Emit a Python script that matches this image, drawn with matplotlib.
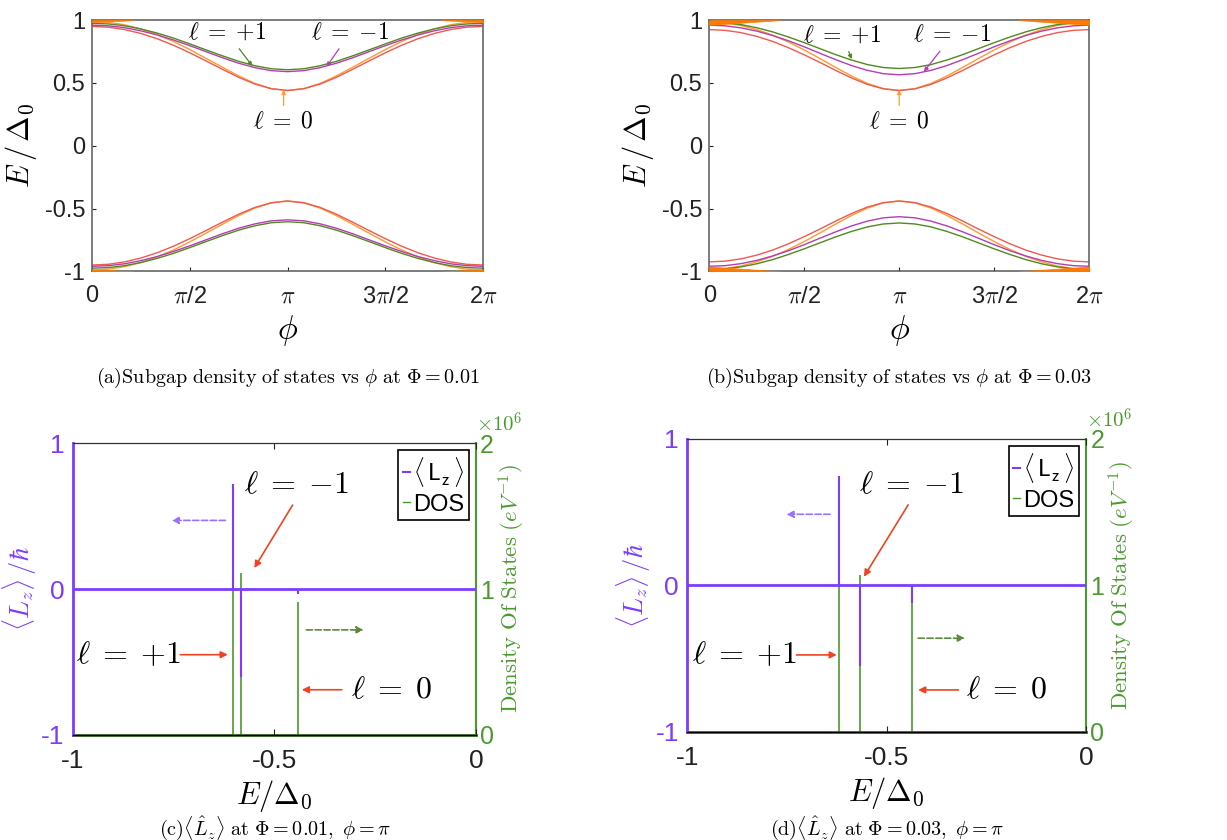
import numpy as np
import matplotlib.pyplot as plt

plt.rcParams['mathtext.fontset'] = 'cm'
plt.rcParams['font.family'] = ['Liberation Sans', 'DejaVu Sans']

# ---- data: upper Andreev branch, phi = k*pi/12, k = 0..12 (curves are symmetric about pi)
phi_half = np.arange(13) * np.pi / 12

a_green = [0.975, 0.970, 0.955, 0.930, 0.897, 0.857, 0.811, 0.763, 0.716, 0.672, 0.637, 0.613, 0.605]
a_magenta = [0.960, 0.955, 0.940, 0.915, 0.882, 0.842, 0.797, 0.749, 0.701, 0.657, 0.622, 0.598, 0.590]
a_red = [0.950, 0.944, 0.925, 0.894, 0.852, 0.800, 0.740, 0.675, 0.609, 0.545, 0.491, 0.454, 0.440]
a_orange = [0.990, 0.983, 0.963, 0.930, 0.885, 0.830, 0.766, 0.696, 0.625, 0.556, 0.496, 0.455, 0.440]

b_green = [0.985, 0.980, 0.965, 0.940, 0.907, 0.866, 0.821, 0.773, 0.725, 0.682, 0.646, 0.623, 0.615]
b_magenta = [0.960, 0.955, 0.939, 0.913, 0.878, 0.836, 0.788, 0.736, 0.685, 0.638, 0.600, 0.574, 0.565]
b_red = [0.925, 0.919, 0.901, 0.871, 0.831, 0.781, 0.724, 0.663, 0.599, 0.539, 0.488, 0.453, 0.440]
b_orange = [0.985, 0.978, 0.958, 0.925, 0.881, 0.826, 0.763, 0.694, 0.623, 0.554, 0.496, 0.455, 0.440]

# continuum wedges at the gap edge
a_wedge_phi = [0.0, 0.21 * np.pi]
a_wedge_E = [0.985, 1.0]
b_wedge_phi = [0.0, 0.37 * np.pi]
b_wedge_E = [0.962, 1.0]

# ---- data: <Lz> and DOS spikes at phi = pi
c_lz_E = [-0.602, -0.583, -0.442]
c_lz_val = [0.72, -0.60, -0.035]
c_dos_E = [-0.602, -0.583, -0.442]
c_dos_val = [1.27e6, 1.11e6, 0.91e6]

d_lz_E = [-0.620, -0.567, -0.437]
d_lz_val = [0.75, -0.55, -0.12]
d_dos_E = [-0.620, -0.567, -0.437]
d_dos_val = [1.23e6, 1.07e6, 0.95e6]

phi_ticks = [0, np.pi / 2, np.pi, 3 * np.pi / 2, 2 * np.pi]
phi_labels = ['0', r'$\pi$/2', r'$\pi$', r'3$\pi$/2', r'2$\pi$']

GREEN = '#4f8a1e'
MAGENTA = '#b43cb4'
RED = '#ee5a50'
ORANGE = '#ff9a30'
WEDGE = '#ff7a00'
PURPLE = '#7c3cff'
DOSG = '#4a9a30'
ARROW = '#ee4422'

L_P1 = r'$\ell\;=\;{+1}$'
L_M1 = r'$\ell\;=\;{-1}$'
L_0 = r'$\ell\;=\;0$'

fig = plt.figure(figsize=(12.27, 8.4), dpi=100)


def mirror(vals):
    v = np.asarray(vals)
    return np.concatenate([v, v[-2::-1]])


phi_full = np.concatenate([phi_half, 2 * np.pi - phi_half[-2::-1]])


def spectrum(rect, curves, wedge_phi, wedge_E, notes, caption):
    ax = fig.add_axes(rect)
    for vals, col in curves:
        y = mirror(vals)
        ax.plot(phi_full, y, color=col, lw=1.0)
        ax.plot(phi_full, -y, color=col, lw=1.0)
    wp = np.asarray(wedge_phi)
    we = np.asarray(wedge_E)
    for xs in (wp, 2 * np.pi - wp):
        ax.fill_between(xs, we, 1.0, color=WEDGE, lw=0.5, edgecolor=WEDGE, zorder=4)
        ax.fill_between(xs, -we, -1.0, color=WEDGE, lw=0.5, edgecolor=WEDGE, zorder=4)
    ax.set_xlim(0, 2 * np.pi)
    ax.set_ylim(-1, 1)
    ax.set_xticks(phi_ticks)
    ax.set_xticklabels(phi_labels)
    ax.set_yticks([-1, -0.5, 0, 0.5, 1])
    ax.set_yticklabels(['-1', '-0.5', '0', '0.5', '1'])
    ax.tick_params(direction='in', length=3, labelsize=17, colors='#222222')
    ax.tick_params(axis='x', pad=10)
    ax.tick_params(axis='y', pad=5)
    for s in ax.spines.values():
        s.set_color('#666666')
        s.set_linewidth(1.2)
    ax.set_xlabel(r'$\phi$', fontsize=24, labelpad=4)
    ax.set_ylabel(r'$E\,/\,\Delta_0$', fontsize=22, labelpad=4)
    for txt, tpos, head, col in notes:
        ax.annotate(txt, xy=head, xytext=tpos, fontsize=17, ha='center', va='center',
                    arrowprops=dict(arrowstyle='-|>', color=col, lw=0.9, mutation_scale=6,
                                    shrinkA=2, shrinkB=0))
    fig.text(rect[0] + rect[2] / 2, 0.55, caption, fontsize=14.5, ha='center', va='center')
    return ax


spectrum([0.075, 0.677, 0.3187, 0.299],
         [(a_orange, ORANGE), (a_red, RED), (a_magenta, MAGENTA), (a_green, GREEN)],
         a_wedge_phi, a_wedge_E,
         [(L_P1, (0.69 * np.pi, 0.90), (0.82 * np.pi, 0.635), GREEN),
          (L_M1, (1.32 * np.pi, 0.90), (1.20 * np.pi, 0.63), MAGENTA),
          (L_0, (0.98 * np.pi, 0.19), (0.98 * np.pi, 0.445), ORANGE)],
         r'$\mathrm{(a)Subgap\ density\ of\ states\ vs\ }\phi\mathrm{\ at\ }\Phi=0.01$')

spectrum([0.578, 0.677, 0.3097, 0.299],
         [(b_orange, ORANGE), (b_red, RED), (b_magenta, MAGENTA), (b_green, GREEN)],
         b_wedge_phi, b_wedge_E,
         [(L_P1, (0.70 * np.pi, 0.88), (0.75 * np.pi, 0.69), GREEN),
          (L_M1, (1.28 * np.pi, 0.88), (1.13 * np.pi, 0.59), MAGENTA),
          (L_0, (1.0 * np.pi, 0.19), (1.0 * np.pi, 0.445), ORANGE)],
         r'$\mathrm{(b)Subgap\ density\ of\ states\ vs\ }\phi\mathrm{\ at\ }\Phi=0.03$')


def lz_panel(rect, lz_E, lz_val, dos_E, dos_val, notes, caption):
    ax = fig.add_axes(rect)
    ax2 = ax.twinx()
    ax.set_zorder(ax2.get_zorder() + 1)
    ax.patch.set_visible(False)

    ax2.vlines(dos_E, 0, dos_val, color=DOSG, lw=1.2)
    ax2.axhline(0, color='#3d6b25', lw=2.0, clip_on=False)
    ax2.set_ylim(0, 2e6)
    ax2.set_yticks([0, 1e6, 2e6])
    ax2.set_yticklabels(['0', '1', '2'])
    ax2.text(1.0, 1.025, r'$\times 10^6$', transform=ax2.transAxes, color=DOSG, fontsize=15,
             ha='left', va='bottom')
    ax2.tick_params(axis='y', colors=DOSG, direction='in', length=4, labelsize=18, pad=3)
    ax2.set_ylabel(r'$\mathrm{Density\ Of\ States\ }(eV^{-1})$', color=DOSG, fontsize=16.5, labelpad=2)

    ax.axhline(0, color=PURPLE, lw=2.0)
    ax.vlines(lz_E, 0, lz_val, color=PURPLE, lw=1.5)
    ax.set_xlim(-1, 0)
    ax.set_ylim(-1, 1)
    ax.set_xticks([-1, -0.5, 0])
    ax.set_xticklabels(['-1', '-0.5', '0'])
    ax.set_yticks([-1, 0, 1])
    ax.set_yticklabels(['-1', '0', '1'])
    ax.tick_params(axis='x', direction='in', length=4, labelsize=19, colors='#222222', top=True, pad=10)
    ax.tick_params(axis='y', direction='in', length=4, labelsize=19, colors=PURPLE, pad=6)
    ax.set_xlabel(r'$E/\Delta_0$', fontsize=22, labelpad=4)
    ax.set_ylabel(r'$\langle L_z\rangle\,/\hbar$', fontsize=19, color=PURPLE, labelpad=2)

    ax.spines['left'].set_color(PURPLE)
    ax.spines['left'].set_linewidth(2.0)
    ax2.spines['right'].set_color(DOSG)
    ax2.spines['right'].set_linewidth(1.5)
    ax.spines['top'].set_color('#333333')
    ax.spines['right'].set_visible(False)
    ax2.spines['left'].set_visible(False)

    h1, = ax.plot([], [], color=PURPLE, lw=1.5)
    h2, = ax.plot([], [], color=DOSG, lw=1.0)
    leg = ax.legend([h1, h2], [r'$\langle\,\mathsf{L_z}\,\rangle$', 'DOS'], loc='upper right',
                    fontsize=17, handlelength=0.3, handletextpad=0.1, borderpad=0.2,
                    labelspacing=0.2, fancybox=False, framealpha=1, borderaxespad=0.3)
    leg.get_frame().set_edgecolor('black')
    leg.get_frame().set_linewidth(1.2)

    for txt, tpos, tail, head, col, ls in notes:
        if txt:
            ax.text(tpos[0], tpos[1], txt, fontsize=23, ha='center', va='center')
        ax.annotate('', xy=head, xytext=tail,
                    arrowprops=dict(arrowstyle='-|>', color=col, lw=1.2, ls=ls,
                                    mutation_scale=10, shrinkA=0, shrinkB=0))
    fig.text(rect[0] + rect[2] / 2, 0.014, caption, fontsize=14.5, ha='center', va='center')


lz_panel([0.0595, 0.125, 0.3284, 0.3476], c_lz_E, c_lz_val, c_dos_E, c_dos_val,
         [(L_M1, (-0.445, 0.71), (-0.455, 0.575), (-0.55, 0.144), ARROW, '-'),
          (L_P1, (-0.862, -0.45), (-0.734, -0.45), (-0.616, -0.45), ARROW, '-'),
          (L_0, (-0.209, -0.69), (-0.333, -0.69), (-0.432, -0.69), ARROW, '-'),
          ('', None, (-0.622, 0.47), (-0.755, 0.47), '#9a70ff', '--'),
          ('', None, (-0.421, -0.28), (-0.279, -0.28), '#5a8a3a', '--')],
         r'$\mathrm{(c)}\langle\hat{L}_z\rangle\mathrm{\ at\ }\Phi=0.01,\ \phi=\pi$')

lz_panel([0.56, 0.1286, 0.3252, 0.3488], d_lz_E, d_lz_val, d_dos_E, d_dos_val,
         [(L_M1, (-0.437, 0.686), (-0.446, 0.55), (-0.557, 0.06), ARROW, '-'),
          (L_P1, (-0.855, -0.474), (-0.726, -0.474), (-0.625, -0.474), ARROW, '-'),
          (L_0, (-0.199, -0.713), (-0.320, -0.713), (-0.421, -0.713), ARROW, '-'),
          ('', None, (-0.642, 0.486), (-0.751, 0.486), '#9a70ff', '--'),
          ('', None, (-0.421, -0.36), (-0.304, -0.36), '#5a8a3a', '--')],
         r'$\mathrm{(d)}\langle\hat{L}_z\rangle\mathrm{\ at\ }\Phi=0.03,\ \phi=\pi$')

fig.savefig('out.png', dpi=100)
